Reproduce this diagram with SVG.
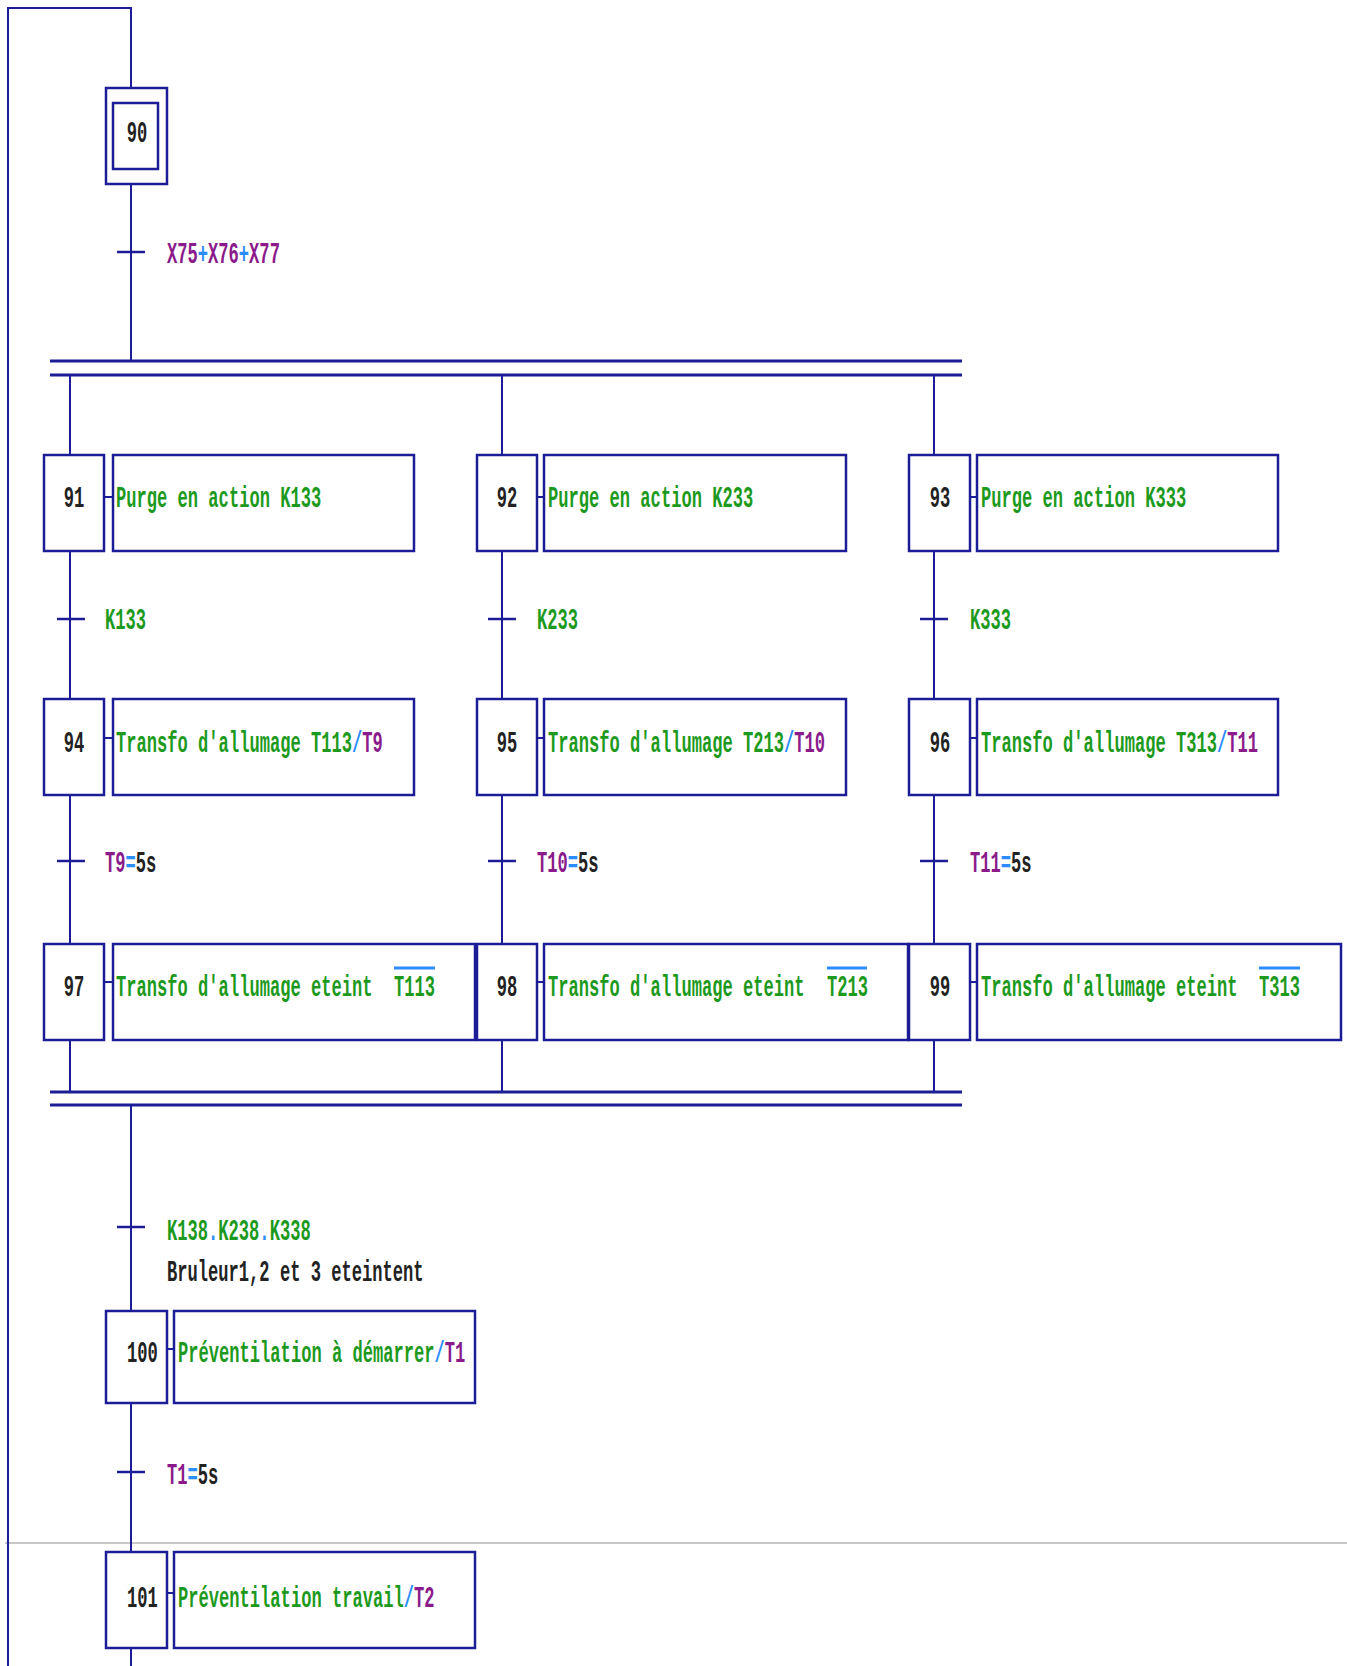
<svg xmlns="http://www.w3.org/2000/svg" width="1347" height="1666" viewBox="0 0 1347 1666">
<style>
.ln{stroke:#1c1c96;stroke-width:2;fill:none}
.bx{stroke:#1c1c96;stroke-width:2.5;fill:#fff}
.bar{stroke:#1c1c96;stroke-width:3}
.tk{stroke:#1c1c96;stroke-width:2.5}
.ob{stroke:#2b8cff;stroke-width:3}
text{font-family:"Liberation Mono","DejaVu Sans Mono",monospace;font-size:29px;font-weight:bold}
.g{fill:#1d9a1d}.p{fill:#8b1a8b}.b{fill:#2b8cff}.k{fill:#222}
</style>
<rect width="1347" height="1666" fill="#fff"/>
<line x1="5" y1="1543" x2="1347" y2="1543" stroke="#c8c8c8" stroke-width="2"/>
<g id="connectors">
<polyline class="ln" points="8,1666 8,8 131,8 131,88"/>
<line class="ln" x1="131" y1="184" x2="131" y2="361"/>
<line class="tk" x1="117" y1="252" x2="145" y2="252"/>
<line class="bar" x1="50" y1="361" x2="962" y2="361"/>
<line class="bar" x1="50" y1="375" x2="962" y2="375"/>
<line class="ln" x1="70" y1="375" x2="70" y2="455"/>
<line class="ln" x1="502" y1="375" x2="502" y2="455"/>
<line class="ln" x1="934" y1="375" x2="934" y2="455"/>
<line class="ln" x1="70" y1="551" x2="70" y2="699"/>
<line class="ln" x1="502" y1="551" x2="502" y2="699"/>
<line class="ln" x1="934" y1="551" x2="934" y2="699"/>
<line class="tk" x1="57" y1="619" x2="85" y2="619"/>
<line class="tk" x1="488" y1="619" x2="516" y2="619"/>
<line class="tk" x1="920" y1="619" x2="948" y2="619"/>
<line class="ln" x1="70" y1="795" x2="70" y2="944"/>
<line class="ln" x1="502" y1="795" x2="502" y2="944"/>
<line class="ln" x1="934" y1="795" x2="934" y2="944"/>
<line class="tk" x1="57" y1="861" x2="85" y2="861"/>
<line class="tk" x1="488" y1="861" x2="516" y2="861"/>
<line class="tk" x1="920" y1="861" x2="948" y2="861"/>
<line class="ln" x1="70" y1="1040" x2="70" y2="1092"/>
<line class="ln" x1="502" y1="1040" x2="502" y2="1092"/>
<line class="ln" x1="934" y1="1040" x2="934" y2="1092"/>
<line class="bar" x1="50" y1="1092" x2="962" y2="1092"/>
<line class="bar" x1="50" y1="1105" x2="962" y2="1105"/>
<line class="ln" x1="131" y1="1105" x2="131" y2="1311"/>
<line class="tk" x1="117" y1="1227" x2="145" y2="1227"/>
<line class="ln" x1="131" y1="1403" x2="131" y2="1552"/>
<line class="tk" x1="117" y1="1472" x2="145" y2="1472"/>
<line class="ln" x1="131" y1="1648" x2="131" y2="1666"/>
<line class="ln" x1="104" y1="497" x2="113" y2="497"/>
<line class="ln" x1="537" y1="497" x2="544" y2="497"/>
<line class="ln" x1="970" y1="497" x2="977" y2="497"/>
<line class="ln" x1="104" y1="738" x2="113" y2="738"/>
<line class="ln" x1="537" y1="738" x2="544" y2="738"/>
<line class="ln" x1="970" y1="738" x2="977" y2="738"/>
<line class="ln" x1="104" y1="982" x2="113" y2="982"/>
<line class="ln" x1="537" y1="982" x2="544" y2="982"/>
<line class="ln" x1="970" y1="982" x2="977" y2="982"/>
<line class="ln" x1="167" y1="1349" x2="174" y2="1349"/>
<line class="ln" x1="167" y1="1593" x2="174" y2="1593"/>
</g>
<g id="transition-labels">
<text transform="translate(167,263) scale(0.59,1)"><tspan class="p">X75</tspan><tspan class="b">+</tspan><tspan class="p">X76</tspan><tspan class="b">+</tspan><tspan class="p">X77</tspan></text>
<text class="g" transform="translate(105,629) scale(0.59,1)">K133</text>
<text class="g" transform="translate(537,629) scale(0.59,1)">K233</text>
<text class="g" transform="translate(970,629) scale(0.59,1)">K333</text>
<text transform="translate(105,872) scale(0.59,1)"><tspan class="p">T9</tspan><tspan class="b">=</tspan><tspan class="k">5s</tspan></text>
<text transform="translate(537,872) scale(0.59,1)"><tspan class="p">T10</tspan><tspan class="b">=</tspan><tspan class="k">5s</tspan></text>
<text transform="translate(970,872) scale(0.59,1)"><tspan class="p">T11</tspan><tspan class="b">=</tspan><tspan class="k">5s</tspan></text>
<text transform="translate(167,1240) scale(0.59,1)"><tspan class="g">K138</tspan><tspan class="b">.</tspan><tspan class="g">K238</tspan><tspan class="b">.</tspan><tspan class="g">K338</tspan></text>
<text class="k" transform="translate(167,1281) scale(0.59,1)">Bruleur1,2 et 3 eteintent</text>
<text transform="translate(167,1484) scale(0.59,1)"><tspan class="p">T1</tspan><tspan class="b">=</tspan><tspan class="k">5s</tspan></text>
</g>
<g id="step90">
<rect class="bx" x="106" y="88" width="61" height="96"/>
<rect class="bx" x="113" y="103" width="45" height="66"/>
<text class="k" text-anchor="middle" transform="translate(137,142) scale(0.59,1)">90</text>
</g>
<g id="step91">
<rect class="bx" x="44" y="455" width="60" height="96"/>
<text class="k" text-anchor="middle" transform="translate(74,507) scale(0.59,1)">91</text>
<rect class="bx" x="113" y="455" width="301" height="96"/>
<text class="g" transform="translate(116,507) scale(0.59,1)">Purge en action K133</text>
</g>
<g id="step92">
<rect class="bx" x="477" y="455" width="60" height="96"/>
<text class="k" text-anchor="middle" transform="translate(507,507) scale(0.59,1)">92</text>
<rect class="bx" x="544" y="455" width="302" height="96"/>
<text class="g" transform="translate(548,507) scale(0.59,1)">Purge en action K233</text>
</g>
<g id="step93">
<rect class="bx" x="909" y="455" width="61" height="96"/>
<text class="k" text-anchor="middle" transform="translate(940,507) scale(0.59,1)">93</text>
<rect class="bx" x="977" y="455" width="301" height="96"/>
<text class="g" transform="translate(981,507) scale(0.59,1)">Purge en action K333</text>
</g>
<g id="step94">
<rect class="bx" x="44" y="699" width="60" height="96"/>
<text class="k" text-anchor="middle" transform="translate(74,752) scale(0.59,1)">94</text>
<rect class="bx" x="113" y="699" width="301" height="96"/>
<text transform="translate(116,752) scale(0.59,1)"><tspan class="g">Transfo d'allumage T113</tspan><tspan class="b">/</tspan><tspan class="p">T9</tspan></text>
</g>
<g id="step95">
<rect class="bx" x="477" y="699" width="60" height="96"/>
<text class="k" text-anchor="middle" transform="translate(507,752) scale(0.59,1)">95</text>
<rect class="bx" x="544" y="699" width="302" height="96"/>
<text transform="translate(548,752) scale(0.59,1)"><tspan class="g">Transfo d'allumage T213</tspan><tspan class="b">/</tspan><tspan class="p">T10</tspan></text>
</g>
<g id="step96">
<rect class="bx" x="909" y="699" width="61" height="96"/>
<text class="k" text-anchor="middle" transform="translate(940,752) scale(0.59,1)">96</text>
<rect class="bx" x="977" y="699" width="301" height="96"/>
<text transform="translate(981,752) scale(0.59,1)"><tspan class="g">Transfo d'allumage T313</tspan><tspan class="b">/</tspan><tspan class="p">T11</tspan></text>
</g>
<g id="step97">
<rect class="bx" x="44" y="944" width="60" height="96"/>
<text class="k" text-anchor="middle" transform="translate(74,996) scale(0.59,1)">97</text>
<rect class="bx" x="113" y="944" width="362" height="96"/>
<text class="g" transform="translate(116,996) scale(0.59,1)">Transfo d'allumage eteint</text>
<text class="g" transform="translate(394,996) scale(0.59,1)">T113</text>
<line class="ob" x1="394" y1="968" x2="435" y2="968"/>
</g>
<g id="step98">
<rect class="bx" x="477" y="944" width="60" height="96"/>
<text class="k" text-anchor="middle" transform="translate(507,996) scale(0.59,1)">98</text>
<rect class="bx" x="544" y="944" width="364" height="96"/>
<text class="g" transform="translate(548,996) scale(0.59,1)">Transfo d'allumage eteint</text>
<text class="g" transform="translate(827,996) scale(0.59,1)">T213</text>
<line class="ob" x1="827" y1="968" x2="867" y2="968"/>
</g>
<g id="step99">
<rect class="bx" x="909" y="944" width="61" height="96"/>
<text class="k" text-anchor="middle" transform="translate(940,996) scale(0.59,1)">99</text>
<rect class="bx" x="977" y="944" width="364" height="96"/>
<text class="g" transform="translate(981,996) scale(0.59,1)">Transfo d'allumage eteint</text>
<text class="g" transform="translate(1259,996) scale(0.59,1)">T313</text>
<line class="ob" x1="1259" y1="968" x2="1300" y2="968"/>
</g>
<g id="step100">
<rect class="bx" x="106" y="1311" width="61" height="92"/>
<text class="k" transform="translate(127,1362) scale(0.59,1)">100</text>
<rect class="bx" x="174" y="1311" width="301" height="92"/>
<text transform="translate(178,1362) scale(0.59,1)"><tspan class="g">Préventilation à démarrer</tspan><tspan class="b">/</tspan><tspan class="p">T1</tspan></text>
</g>
<g id="step101">
<rect class="bx" x="106" y="1552" width="61" height="96"/>
<text class="k" transform="translate(127,1607) scale(0.59,1)">101</text>
<rect class="bx" x="174" y="1552" width="301" height="96"/>
<text transform="translate(178,1607) scale(0.59,1)"><tspan class="g">Préventilation travail</tspan><tspan class="b">/</tspan><tspan class="p">T2</tspan></text>
</g>
</svg>
